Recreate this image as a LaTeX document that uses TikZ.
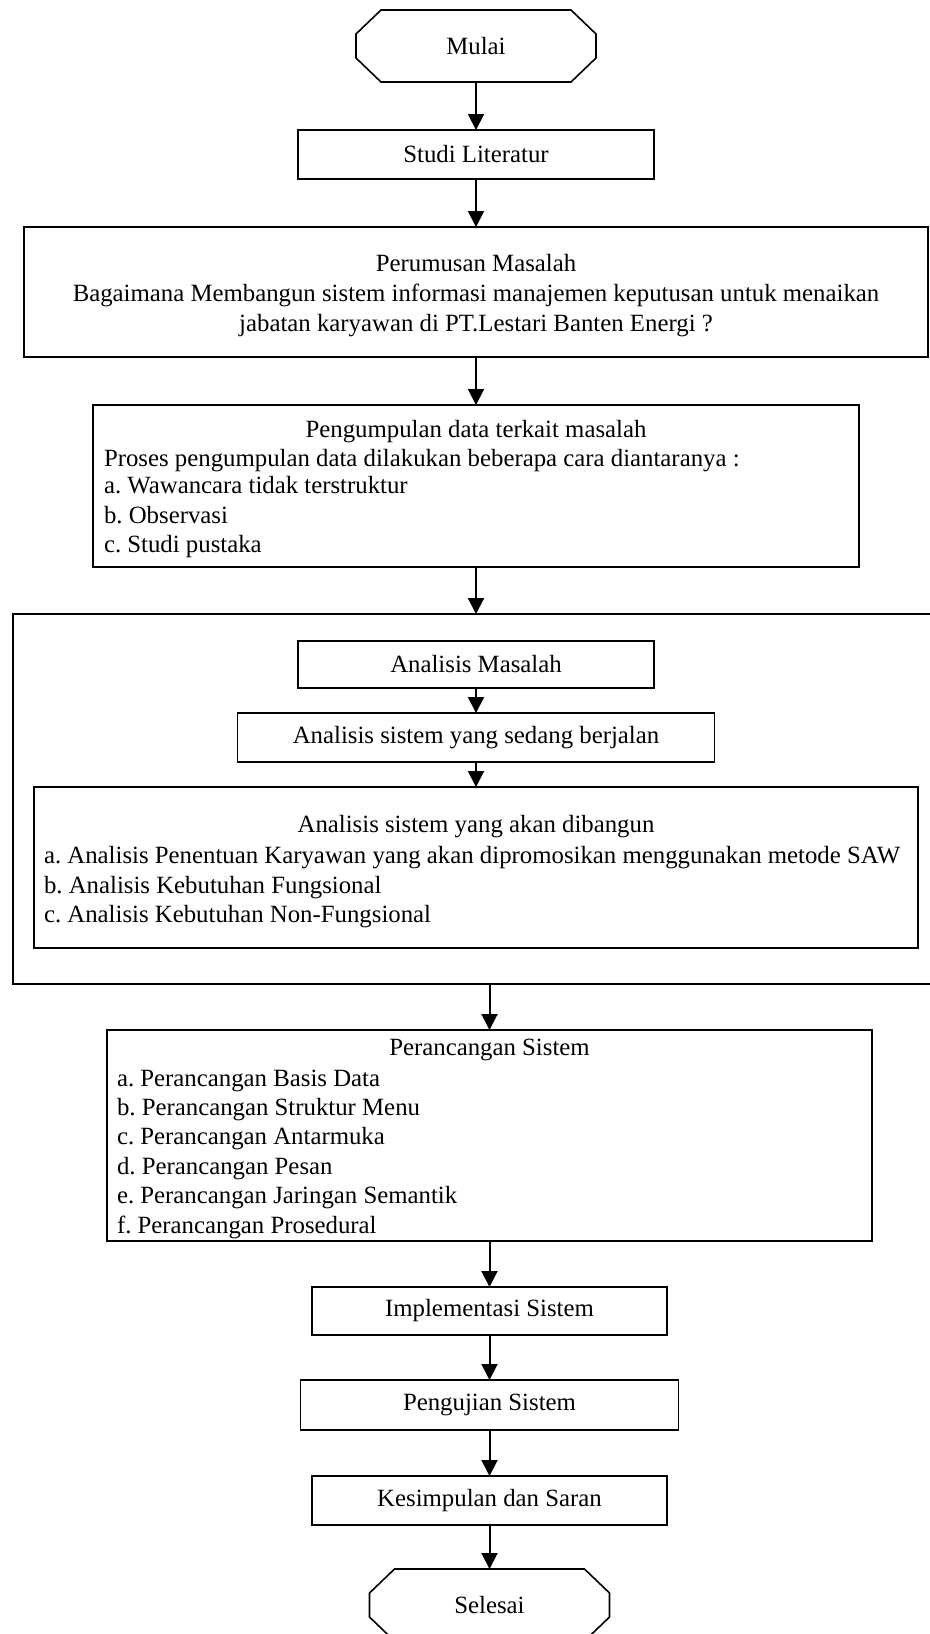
\documentclass[tikz,border=0pt]{standalone}
\usepackage{fontspec}
\setmainfont{Liberation Serif}
\usetikzlibrary{arrows.meta}
\frenchspacing
\tikzset{
  x=0.5pt, y=-0.5pt,
  box/.style={draw, line width=0.8pt, inner sep=0pt, outer sep=0pt},
  termbase/.style={inner sep=0pt, outer sep=0pt,
    minimum width=120pt, minimum height=36pt, font=\fontsize{12.4}{15}\selectfont},
  octo/.style={line width=0.8pt, line join=miter},
  sbox/.style={box, font=\fontsize{12.4}{15}\selectfont},
  txt/.style={inner sep=0pt, outer sep=0pt, font=\fontsize{12.4}{15}\selectfont},
  arr/.style={-{Triangle[length=8pt,width=8pt]}, line width=1pt},
}
\newcommand{\octagonof}[1]{%
  \draw[octo] ([xshift=12.5pt]#1.north west) -- ([xshift=-12.5pt]#1.north east)
    -- ([yshift=-12pt]#1.north east) -- ([yshift=12pt]#1.south east)
    -- ([xshift=-12.5pt]#1.south east) -- ([xshift=12.5pt]#1.south west)
    -- ([yshift=12pt]#1.south west) -- ([yshift=-12pt]#1.north west) -- cycle;}
\begin{document}
\begin{tikzpicture}
\useasboundingbox (0,0) rectangle (930,1634);
% terminals and boxes
\node[termbase] (mulai) at (476,46) {Mulai};
\octagonof{mulai}
\node[sbox, minimum width=178pt, minimum height=24.5pt] (studi) at (476,154.5) {Studi Literatur};
\node[box, minimum width=452pt, minimum height=65pt] (rumus) at (476,292) {};
\node[txt, anchor=base] (rumus1) at (476,271) {Perumusan Masalah};
\node[txt, anchor=base] (rumus2) at (476,301) {Bagaimana Membangun sistem informasi manajemen keputusan untuk menaikan};
\node[txt, anchor=base] (rumus3) at (476,331) {jabatan karyawan di PT.Lestari Banten Energi ?};

\node[box, minimum width=383pt, minimum height=81pt] (kumpul) at (476,486) {};
\node[txt, anchor=base] (kumpul0) at (476,437) {Pengumpulan data terkait masalah};
\node[txt, anchor=base west] (kumpul1) at (104,466) {Proses pengumpulan data dilakukan beberapa cara diantaranya :};
\node[txt, anchor=base west] (kumpul2) at (104,493) {a. Wawancara tidak terstruktur};
\node[txt, anchor=base west] (kumpul3) at (104,523) {b. Observasi};
\node[txt, anchor=base west] (kumpul4) at (104,552) {c. Studi pustaka};

% container
\node[inner sep=0pt, outer sep=0pt, minimum width=458.5pt, minimum height=185pt] (cont) at (471.5,799) {};
\draw[line width=0.8pt] (cont.north east) -- (cont.north west) -- (cont.south west) -- (cont.south east);

\node[sbox, minimum width=178pt, minimum height=23.5pt] (amasalah) at (476,664.5) {Analisis Masalah};
\node[sbox, minimum width=238.5pt, minimum height=24.5pt] (ajalan) at (476,737.5) {Analisis sistem yang sedang berjalan};
\node[box, minimum width=442pt, minimum height=80.5pt] (abangun) at (476,867.5) {};
\node[txt, anchor=base] (abangun0) at (476,832) {Analisis sistem yang akan dibangun};
\node[txt, anchor=base west] (abangun1) at (44,863) {a. Analisis Penentuan Karyawan yang akan dipromosikan menggunakan metode SAW};
\node[txt, anchor=base west] (abangun2) at (44,893) {b. Analisis Kebutuhan Fungsional};
\node[txt, anchor=base west] (abangun3) at (44,922) {c. Analisis Kebutuhan Non-Fungsional};

\node[box, minimum width=382.5pt, minimum height=105.5pt] (rancang) at (489.5,1135.5) {};
\node[txt, anchor=base] (rancang0) at (489.5,1055) {Perancangan Sistem};
\node[txt, anchor=base west] (rancang1) at (117,1086) {a. Perancangan Basis Data};
\node[txt, anchor=base west] (rancang2) at (117,1115.4) {b. Perancangan Struktur Menu};
\node[txt, anchor=base west] (rancang3) at (117,1144.8) {c. Perancangan Antarmuka};
\node[txt, anchor=base west] (rancang4) at (117,1174.2) {d. Perancangan Pesan};
\node[txt, anchor=base west] (rancang5) at (117,1203.6) {e. Perancangan Jaringan Semantik};
\node[txt, anchor=base west] (rancang6) at (117,1233) {f. Perancangan Prosedural};

\node[sbox, minimum width=177.5pt, minimum height=24pt] (impl) at (489.5,1311) {Implementasi Sistem};
\node[sbox, minimum width=189pt, minimum height=25pt] (uji) at (489.5,1405) {Pengujian Sistem};
\node[sbox, minimum width=177.5pt, minimum height=24.5pt] (simpul) at (489.5,1500.5) {Kesimpulan dan Saran};
\node[termbase] (selesai) at (489.5,1605) {Selesai};
\octagonof{selesai}

% connectors
\draw[arr] (mulai) -- (studi);
\draw[arr] (studi) -- (rumus);
\draw[arr] (rumus) -- (kumpul);
\draw[arr] (kumpul) -- (kumpul.south |- cont.north);
\draw[arr] (amasalah) -- (ajalan);
\draw[arr] (ajalan) -- (abangun);
\draw[arr] (rancang.north |- cont.south) -- (rancang);
\draw[arr] (rancang) -- (impl);
\draw[arr] (impl) -- (uji);
\draw[arr] (uji) -- (simpul);
\draw[arr] (simpul) -- (selesai);
\end{tikzpicture}
\end{document}
